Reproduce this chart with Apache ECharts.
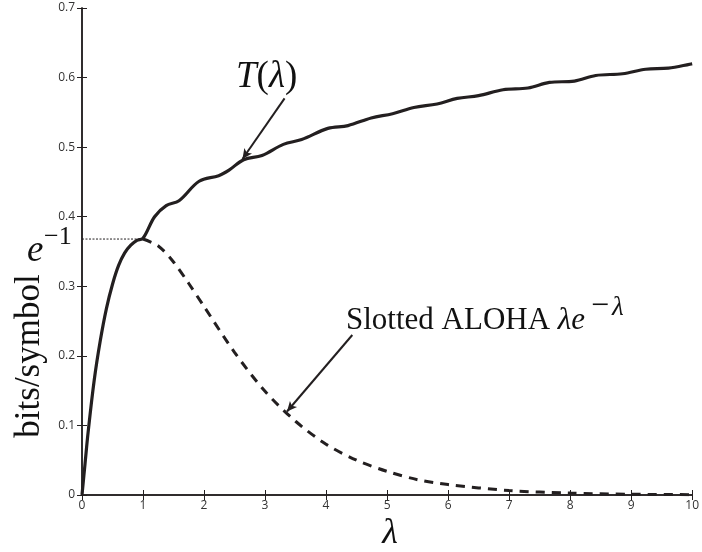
<!DOCTYPE html>
<html>
<head>
<meta charset="utf-8">
<script src="https://cdn.jsdelivr.net/npm/echarts@6/dist/echarts.min.js"></script>
<style>
  html, body { margin: 0; padding: 0; background: #fff; }
  #chart { width: 702px; height: 552px; }
</style>
</head>
<body>
<div id="chart"></div>
<script>
// T(lambda)
var lambdaT = [0, 0.05, 0.1, 0.2, 0.3, 0.4, 0.5, 0.6, 0.7, 0.8, 0.9, 1.0, 1.19, 1.38, 1.59, 1.92, 2.24, 2.41, 2.65, 2.95, 3.3, 3.6, 4.03, 4.36, 4.74, 5.09, 5.44, 5.82, 6.15, 6.5, 6.9, 7.31, 7.66, 8.07, 8.42, 8.86, 9.24, 9.61, 10.0]
var valuesT = [0, 0.045, 0.09, 0.165, 0.222, 0.268, 0.303, 0.33, 0.348, 0.359, 0.366, 0.369, 0.40, 0.416, 0.423, 0.451, 0.459, 0.467, 0.482, 0.488, 0.504, 0.511, 0.527, 0.531, 0.542, 0.548, 0.557, 0.562, 0.570, 0.574, 0.5825, 0.585, 0.593, 0.595, 0.603, 0.6055, 0.612, 0.6135, 0.620]

// slotted ALOHA, dashed curve
var lambdaAloha = [1, 1.25, 1.5, 1.75, 2, 2.5, 3, 3.5, 4, 4.5, 5, 5.5, 6, 7, 8, 9, 10]
var valuesAloha = [0.368, 0.358, 0.335, 0.304, 0.271, 0.205, 0.149, 0.106, 0.073, 0.05, 0.034, 0.022, 0.015, 0.0064, 0.0027, 0.0011, 0.0005]

// e^-1 reference
var eInvLambda = [0, 1]
var eInvValue = [0.3679, 0.3679]

function pairs (xs, ys) {
  return xs.map(function (x, i) { return [x, ys[i]] })
}

var ink = '#231f20'
var serif = 'Liberation Serif'
var chart = echarts.init(document.getElementById('chart'))

var tickAxis = {
  axisLine: { show: true, lineStyle: { color: ink, width: 1.5 } },
  axisTick: { show: true, inside: true, length: 5, lineStyle: { color: ink, width: 1 } },
  splitLine: { show: false }
}

var option = {
  backgroundColor: '#fff',
  animation: false,
  grid: { left: 82, right: 4, top: 8, bottom: 57 },
  xAxis: [
    Object.assign({
      type: 'value', min: 0, max: 10, interval: 1,
      axisLabel: { color: '#333', fontFamily: 'Open Sans', fontSize: 12, margin: 5 }
    }, tickAxis),
    Object.assign({
      type: 'value', position: 'top', min: 0, max: 10, interval: 1,
      axisLabel: { show: false }
    }, tickAxis)
  ],
  yAxis: [
    Object.assign({
      type: 'value', min: 0, max: 0.7, interval: 0.1,
      axisLabel: { color: '#333', fontFamily: 'Open Sans', fontSize: 12, margin: 7,
        formatter: function (v) { return +v.toFixed(1) + '' } }
    }, tickAxis),
    Object.assign({
      type: 'value', position: 'right', min: 0, max: 0.7, interval: 0.1,
      axisLabel: { show: false }
    }, tickAxis)
  ],
  series: [
    {
      name: 'e^-1',
      type: 'line',
      data: pairs(eInvLambda, eInvValue),
      symbol: 'none',
      lineStyle: { color: ink, width: 1, type: [2, 1.5] },
      z: 1
    },
    {
      name: 'T(lambda)',
      type: 'line',
      data: pairs(lambdaT, valuesT),
      symbol: 'none',
      smooth: 0.35,
      lineStyle: { color: ink, width: 3.2 },
      z: 3,
      markLine: {
        silent: true,
        symbol: ['none', 'arrow'],
        symbolSize: [7, 10],
        label: { show: false },
        lineStyle: { color: ink, width: 2, type: 'solid' },
        data: [
          [{ coord: [3.32, 0.570] }, { coord: [2.63, 0.483] }],
          [{ coord: [4.43, 0.230] }, { coord: [3.36, 0.120] }]
        ]
      }
    },
    {
      name: 'Slotted ALOHA',
      type: 'line',
      data: pairs(lambdaAloha, valuesAloha),
      symbol: 'none',
      smooth: 0.3,
      lineStyle: { color: ink, width: 3, type: [9, 7] },
      z: 2
    }
  ],
  graphic: [
    {
      type: 'text', left: 236, top: 59,
      style: {
        text: '{i|T}{n|(}{i|λ}{n|)}',
        rich: {
          i: { fontFamily: serif, fontStyle: 'italic', fontSize: 37, fill: '#111' },
          n: { fontFamily: serif, fontSize: 37, fill: '#111' }
        }
      }
    },
    {
      type: 'text', left: 346, top: 291,
      style: {
        text: '{n|Slotted ALOHA }{i|λe}{m|−}{s|λ}',
        rich: {
          i: { fontFamily: serif, fontStyle: 'italic', fontSize: 31, fill: '#111' },
          n: { fontFamily: serif, fontSize: 31, fill: '#111' },
          m: { fontFamily: serif, fontSize: 32, fill: '#111', padding: [0, 3, 28, 6] },
          s: { fontFamily: serif, fontStyle: 'italic', fontSize: 27, fill: '#111', padding: [0, 0, 26, 0] }
        }
      }
    },
    {
      type: 'text', left: 27, top: 233,
      style: { text: 'e', fontFamily: serif, fontStyle: 'italic', fontSize: 37, fill: '#111' }
    },
    {
      type: 'text', left: 44, top: 224,
      style: { text: '−1', fontFamily: serif, fontSize: 26, fill: '#111' }
    },
    {
      type: 'text', x: 30, y: 356, rotation: Math.PI / 2,
      style: {
        text: 'bits/symbol',
        fontFamily: serif, fontSize: 35, fill: '#111',
        align: 'center', verticalAlign: 'middle'
      }
    },
    {
      type: 'text', x: 390, y: 534,
      style: {
        text: 'λ',
        fontFamily: serif, fontStyle: 'italic', fontSize: 36, fill: '#111',
        align: 'center', verticalAlign: 'middle'
      }
    }
  ]
}

chart.setOption(option)
</script>
</body>
</html>
